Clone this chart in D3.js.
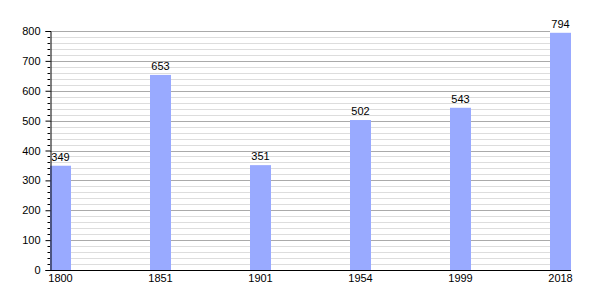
<!DOCTYPE html>
<html>
<head>
<meta charset="utf-8">
<script src="https://cdn.jsdelivr.net/npm/d3@7"></script>
<style>
body { margin: 0; background: #fff; }
text { font-family: "Liberation Sans", Arial, sans-serif; font-size: 11px; fill: #000; }
</style>
</head>
<body>
<svg id="chart" width="600" height="300"></svg>
<script>
var years = ["1800", "1851", "1901", "1954", "1999", "2018"];
var population = [349, 653, 351, 502, 543, 794];
var yTicks = [0, 100, 200, 300, 400, 500, 600, 700, 800];

var svg = d3.select("#chart");
var plotLeft = 50, plotRight = 571, plotTop = 31, plotBottom = 270;

var x = d3.scaleBand().domain(years).range([plotLeft, plotRight]).paddingInner(0.79).paddingOuter(0).align(0);
var y = d3.scaleLinear().domain([0, 800]).range([plotBottom, plotTop]);

// minor grid every 20
var minor = d3.range(20, 801, 20).filter(function(v) { return v % 100 != 0; });
svg.append("g").selectAll("line").data(minor).enter().append("line")
	.attr("x1", plotLeft).attr("x2", 550)
	.attr("y1", function(d) { return Math.round(y(d)) + 0.5; })
	.attr("y2", function(d) { return Math.round(y(d)) + 0.5; })
	.attr("stroke", "#dddddd").attr("stroke-width", 1);

// major grid
svg.append("g").selectAll("line").data(yTicks.slice(1)).enter().append("line")
	.attr("x1", plotLeft).attr("x2", 550)
	.attr("y1", function(d) { return Math.round(y(d)) + 0.5; })
	.attr("y2", function(d) { return Math.round(y(d)) + 0.5; })
	.attr("stroke", "#aaaaaa").attr("stroke-width", 1);

// bars
svg.append("g").selectAll("rect").data(population).enter().append("rect")
	.attr("x", function(d, i) { return x(years[i]); })
	.attr("y", function(d) { return y(d); })
	.attr("width", x.bandwidth())
	.attr("height", function(d) { return y(0) - y(d); })
	.attr("fill", "#99aaff");

// value labels
svg.append("g").selectAll("text").data(population).enter().append("text")
	.attr("x", function(d, i) { return x(years[i]) + x.bandwidth() / 2; })
	.attr("y", function(d) { return y(d) - 5; })
	.attr("text-anchor", "middle")
	.text(function(d) { return d; });

// y axis minor ticks
svg.append("g").selectAll("line").data(minor).enter().append("line")
	.attr("x1", plotLeft - 2.5).attr("x2", plotLeft)
	.attr("y1", function(d) { return Math.round(y(d)) + 0.5; })
	.attr("y2", function(d) { return Math.round(y(d)) + 0.5; })
	.attr("stroke", "#000");

// y axis
var yAxis = d3.axisLeft(y).tickValues(yTicks).tickSize(5).tickPadding(5).tickFormat(d3.format("d"));
var ya = svg.append("g").attr("transform", "translate(" + (plotLeft + 0.5) + ",0)").call(yAxis);
ya.selectAll("text").style("font-size", "11px").style("font-family", "Liberation Sans, Arial, sans-serif");
ya.select(".domain").attr("stroke", "#000");

// x axis
var xAxis = d3.axisBottom(x).tickSize(0).tickPadding(4);
var xa = svg.append("g").attr("transform", "translate(0," + (plotBottom + 0.5) + ")").call(xAxis);
xa.selectAll("text").style("font-size", "11px").style("font-family", "Liberation Sans, Arial, sans-serif");
xa.select(".domain").attr("d", "M" + plotLeft + ",0H" + plotRight).attr("stroke", "#000");
</script>
</body>
</html>
